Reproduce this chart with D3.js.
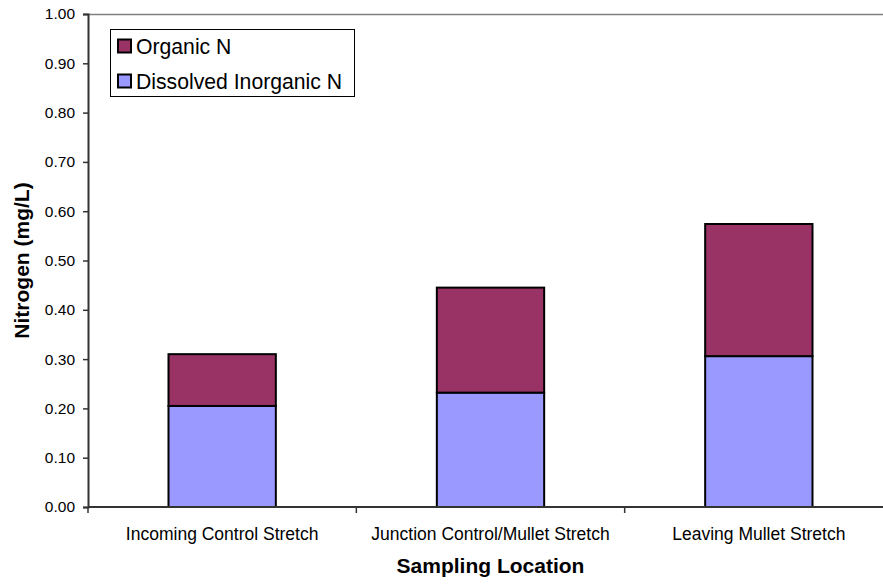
<!DOCTYPE html>
<html>
<head>
<meta charset="utf-8">
<script src="https://cdn.jsdelivr.net/npm/d3@7"></script>
<style>
  html, body { margin: 0; padding: 0; background: #fff; }
  svg { display: block; font-family: Arial, "Liberation Sans", sans-serif; }
</style>
</head>
<body>
<svg id="chart" width="883" height="585"></svg>
<script>
// Stacked nitrogen fractions at each sampling location (mg/L)
const categories = ["Incoming Control Stretch", "Junction Control/Mullet Stretch", "Leaving Mullet Stretch"];
const dissolvedInorganicN = [0.205, 0.232, 0.306];
const organicN = [0.105, 0.213, 0.268];
const seriesNames = ["Dissolved Inorganic N", "Organic N"];
const seriesColors = ["#9999FF", "#993366"];
const yTicks = [0, 0.1, 0.2, 0.3, 0.4, 0.5, 0.6, 0.7, 0.8, 0.9, 1.0];

const svg = d3.select("#chart");
const margin = { left: 88, top: 14, right: 893, bottom: 507 };

const rows = categories.map((c, i) => ({
  category: c,
  "Dissolved Inorganic N": dissolvedInorganicN[i],
  "Organic N": organicN[i]
}));
const stacked = d3.stack().keys(seriesNames)(rows);

const x = d3.scaleBand().domain(categories).range([margin.left, margin.right]).paddingInner(0).paddingOuter(0);
const y = d3.scaleLinear().domain([0, 1]).range([margin.bottom, margin.top]);
const barW = x.bandwidth() * 0.4;

// Plot frame top edge
svg.append("line")
  .attr("x1", margin.left).attr("x2", margin.right)
  .attr("y1", margin.top + 0.5).attr("y2", margin.top + 0.5)
  .attr("stroke", "#808080").attr("stroke-width", 1.5);

// Bars
stacked.forEach((layer, si) => {
  svg.append("g").selectAll("rect")
    .data(layer)
    .join("rect")
    .attr("x", d => x(d.data.category) + (x.bandwidth() - barW) / 2)
    .attr("y", d => y(d[1]))
    .attr("width", barW)
    .attr("height", d => y(d[0]) - y(d[1]))
    .attr("fill", seriesColors[si])
    .attr("stroke", "#000")
    .attr("stroke-width", 2);
});

// Y axis
const yAxis = svg.append("g")
  .attr("transform", `translate(${margin.left},0)`)
  .call(d3.axisLeft(y).tickValues(yTicks).tickFormat(d3.format(".2f")).tickSize(5).tickPadding(8));
yAxis.select(".domain").attr("stroke", "#333").attr("stroke-width", 2);
yAxis.selectAll(".tick line").attr("stroke", "#333").attr("stroke-width", 1.5);
yAxis.selectAll(".tick text").attr("font-size", "15.5px").attr("fill", "#000")
  .attr("font-family", "Arial, 'Liberation Sans', sans-serif");

// X axis with ticks at category boundaries
const xAxisG = svg.append("g").attr("transform", `translate(0,${margin.bottom})`);
xAxisG.append("line")
  .attr("x1", margin.left).attr("x2", margin.right)
  .attr("y1", 0).attr("y2", 0)
  .attr("stroke", "#333").attr("stroke-width", 2);
const boundaries = categories.map(c => x(c)).concat([x(categories[categories.length - 1]) + x.bandwidth()]);
xAxisG.selectAll("line.bound")
  .data(boundaries)
  .join("line")
  .attr("class", "bound")
  .attr("x1", d => d).attr("x2", d => d)
  .attr("y1", 0).attr("y2", 6)
  .attr("stroke", "#333").attr("stroke-width", 1.5);
xAxisG.selectAll("text.cat")
  .data(categories)
  .join("text")
  .attr("class", "cat")
  .attr("x", d => x(d) + x.bandwidth() / 2)
  .attr("y", 33)
  .attr("text-anchor", "middle")
  .attr("font-size", "17.5px")
  .attr("fill", "#000")
  .text(d => d);

// Axis titles
svg.append("text")
  .attr("x", (margin.left + margin.right) / 2)
  .attr("y", 573)
  .attr("text-anchor", "middle")
  .attr("font-size", "21px")
  .attr("font-weight", "bold")
  .text("Sampling Location");

svg.append("text")
  .attr("transform", `translate(29,${(margin.top + margin.bottom) / 2}) rotate(-90)`)
  .attr("text-anchor", "middle")
  .attr("font-size", "21px")
  .attr("font-weight", "bold")
  .text("Nitrogen (mg/L)");

// Legend (top series listed first)
const legend = svg.append("g");
legend.append("rect")
  .attr("x", 110.5).attr("y", 29.5)
  .attr("width", 244).attr("height", 67)
  .attr("fill", "#fff").attr("stroke", "#000").attr("stroke-width", 1);
const legendItems = [
  { name: seriesNames[1], color: seriesColors[1] },
  { name: seriesNames[0], color: seriesColors[0] }
];
const li = legend.selectAll("g.item")
  .data(legendItems)
  .join("g")
  .attr("class", "item")
  .attr("transform", (d, i) => `translate(0,${46 + i * 35})`);
li.append("rect")
  .attr("x", 118).attr("y", -6.5)
  .attr("width", 13).attr("height", 13)
  .attr("fill", d => d.color)
  .attr("stroke", "#000").attr("stroke-width", 2);
li.append("text")
  .attr("x", 136).attr("y", 0)
  .attr("dy", "0.36em")
  .attr("font-size", "21.2px")
  .attr("fill", "#000")
  .text(d => d.name);
</script>
</body>
</html>
